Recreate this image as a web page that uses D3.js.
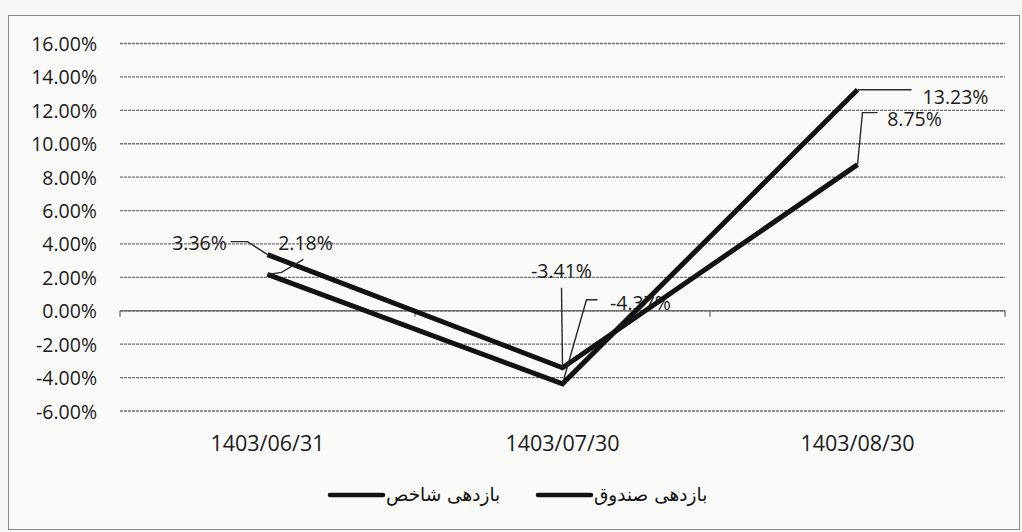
<!DOCTYPE html>
<html>
<head>
<meta charset="utf-8">
<script src="https://cdn.jsdelivr.net/npm/d3@7"></script>
<style>
  html, body { margin: 0; padding: 0; background: #f7f7f5; }
  svg { display: block; }
</style>
</head>
<body>
<svg id="chart" width="1022" height="532"></svg>
<script>
// ---- data ----
const categories = ["1403/06/31", "1403/07/30", "1403/08/30"];
const seriesNames = ["بازدهی شاخص", "بازدهی صندوق"];
const indexReturns = [3.36, -3.41, 8.75];
const fundReturns = [2.18, -4.37, 13.23];
const yTicks = [16, 14, 12, 10, 8, 6, 4, 2, 0, -2, -4, -6];

// ---- label placement (style: offsets relative to each point) ----
const indexLabelStyle = [
  { tx: -68, ty: -12, path: [[0, 0], [-20, -13], [-37, -13]] },
  { tx: -1, ty: -97, path: [[0, 0], [-1, -80]] },
  { tx: 57, ty: -46, path: [[0, 0], [5, -52], [20, -52]] }
];
const fundLabelStyle = [
  { tx: 38, ty: -31, path: [[0, 0], [14, -2], [36, -15]] },
  { tx: 78, ty: -81, path: [[0, 0], [24, -84], [35, -84]] },
  { tx: 98, ty: 7, path: [[0, 0], [54, 0]] }
];

const svg = d3.select("#chart");
const W = 1022, H = 532;
const margin = { left: 120, right: 17, top: 43.5, bottom: 121 };
const textFont = "'Open Sans', sans-serif";
const textColor = "#1b1b1b";

// border
svg.append("rect").attr("x", 8.5).attr("y", 15.5).attr("width", 1011).attr("height", 514)
  .attr("fill", "#fafaf9").attr("stroke", "#8a8a8a").attr("stroke-width", 1);

const x = d3.scaleBand().domain(categories).range([margin.left, W - margin.right]);
const y = d3.scaleLinear().domain([-6, 16]).range([H - margin.bottom, margin.top]);

// gridlines
const grid = svg.append("g");
grid.selectAll("line").data(yTicks).join("line")
  .attr("x1", margin.left).attr("x2", W - margin.right)
  .attr("y1", d => y(d)).attr("y2", d => y(d))
  .attr("stroke", "#6f6f6f").attr("stroke-width", 1.3)
  .attr("stroke-dasharray", "3,1");

// y axis labels
const yAxis = d3.axisLeft(y).tickValues(yTicks).tickSize(0).tickPadding(0)
  .tickFormat(d => d.toFixed(2) + "%");
const gy = svg.append("g").attr("transform", `translate(97,0)`).call(yAxis);
gy.select(".domain").remove();
gy.selectAll("text").attr("font-family", textFont).attr("font-size", 19.5)
  .attr("fill", textColor).attr("dy", "0.36em");

// x axis at zero with ticks at band boundaries
const boundaries = categories.map(c => x(c)).concat([x(categories[categories.length - 1]) + x.bandwidth()]);
const xg = svg.append("g");
xg.append("line").attr("x1", margin.left).attr("x2", W - margin.right)
  .attr("y1", y(0)).attr("y2", y(0)).attr("stroke", "#6f6f6f").attr("stroke-width", 1.3);
xg.selectAll("line.tick").data(boundaries).join("line").attr("class", "tick")
  .attr("x1", d => d).attr("x2", d => d).attr("y1", y(0)).attr("y2", y(0) + 6)
  .attr("stroke", "#6f6f6f").attr("stroke-width", 1.3);

// category labels
svg.append("g").selectAll("text").data(categories).join("text")
  .attr("x", d => x(d) + x.bandwidth() / 2).attr("y", 451)
  .attr("text-anchor", "middle")
  .attr("font-family", textFont).attr("font-size", 21.5).attr("fill", textColor)
  .text(d => d);

// lines
const line = d3.line().x((d, i) => x(categories[i]) + x.bandwidth() / 2).y(d => y(d));
[indexReturns, fundReturns].forEach(vals => {
  svg.append("path").datum(vals).attr("d", line)
    .attr("fill", "none").attr("stroke", "#121212").attr("stroke-width", 5)
    .attr("stroke-linejoin", "miter");
});

// data labels with leader lines
function drawLabels(vals, styles) {
  vals.forEach((v, i) => {
    const px = x(categories[i]) + x.bandwidth() / 2, py = y(v);
    const s = styles[i];
    svg.append("path")
      .attr("d", d3.line()(s.path.map(p => [px + p[0], py + p[1]])))
      .attr("fill", "none").attr("stroke", "#2a2a2a").attr("stroke-width", 1.4);
    svg.append("text").attr("x", px + s.tx).attr("y", py + s.ty)
      .attr("text-anchor", "middle").attr("dy", "0.36em")
      .attr("font-family", textFont).attr("font-size", 19.5).attr("fill", textColor)
      .text(v.toFixed(2) + "%");
  });
}
drawLabels(indexReturns, indexLabelStyle);
drawLabels(fundReturns, fundLabelStyle);

// legend
const legendX = [330, 538];
const lg = svg.append("g");
seriesNames.forEach((name, i) => {
  lg.append("line").attr("x1", legendX[i]).attr("x2", legendX[i] + 53)
    .attr("y1", 495).attr("y2", 495).attr("stroke", "#121212").attr("stroke-width", 4.5)
    .attr("stroke-linecap", "round");
  lg.append("text").attr("x", legendX[i] + 56).attr("y", 495).attr("dy", "0.35em")
    .attr("font-family", "'DejaVu Sans', sans-serif").attr("font-size", 18.5).attr("fill", "#111")
    .text(name);
});
</script>
</body>
</html>
